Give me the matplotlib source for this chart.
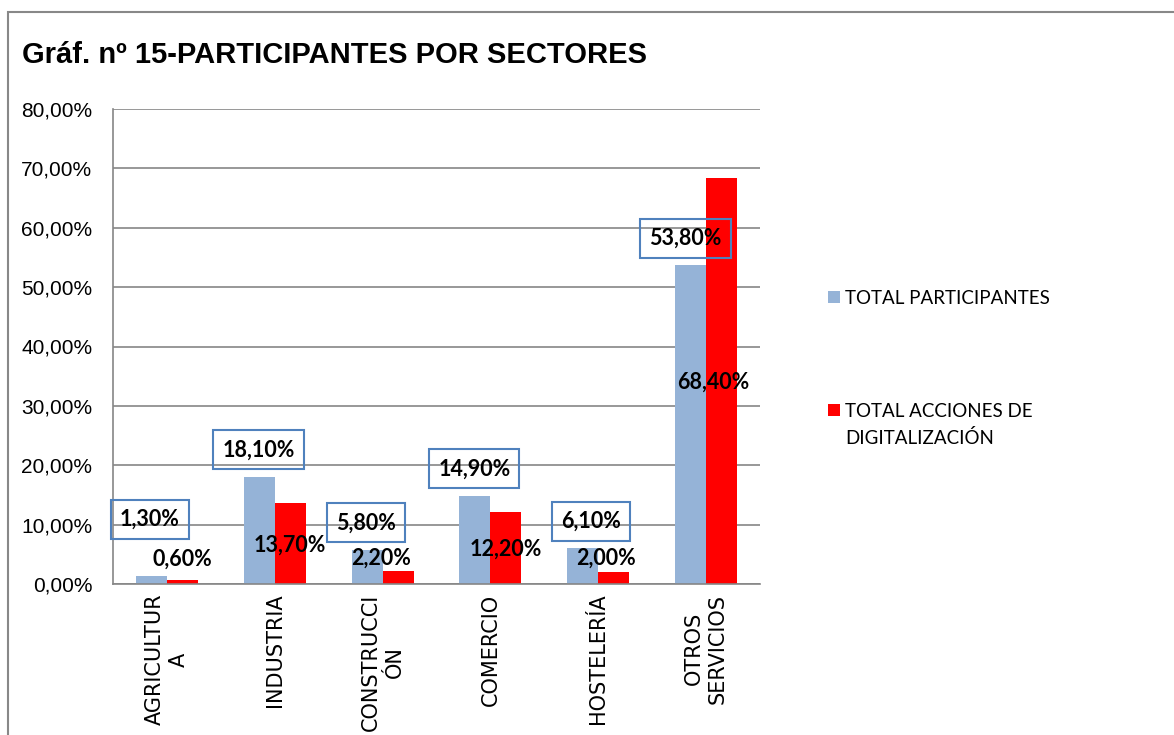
import numpy as np
import matplotlib.pyplot as plt
from matplotlib.patches import Rectangle

# data
sectores = ["AGRICULTUR\nA", "INDUSTRIA", "CONSTRUCCI\nÓN", "COMERCIO", "HOSTELERÍA", "OTROS\nSERVICIOS"]
participantes = [1.3, 18.1, 5.8, 14.9, 6.1, 53.8]
acciones = [0.6, 13.7, 2.2, 12.2, 2.0, 68.4]
series = ["TOTAL PARTICIPANTES", "TOTAL ACCIONES DE\nDIGITALIZACIÓN"]
yticks = [0, 10, 20, 30, 40, 50, 60, 70, 80]

# label placement (data units)
lab_part_y = [10.9, 22.6, 10.3, 19.4, 10.5, 58.2]
lab_part_dx = [-0.16, -0.15, -0.15, -0.15, -0.07, -0.19]
lab_acc_y = [4.2, 6.6, 4.4, 5.9, 4.4, 34.0]
lab_acc_dx = [0.14, 0.14, -0.01, 0.14, 0.07, 0.07]

blue = "#95B3D7"
red = "#FF0000"
grid_c = "#868686"
box_c = "#4F81BD"
W, H = 1174, 735

fig = plt.figure(figsize=(W / 100, H / 100), dpi=100)
ax = fig.add_axes([113 / W, 1 - 584 / H, (760 - 113) / W, (584 - 109) / H])

x = np.arange(len(sectores))
w = 0.287
ax.bar(x - w / 2, participantes, w, color=blue, label=series[0], zorder=2)
ax.bar(x + w / 2, acciones, w, color=red, label=series[1], zorder=2)

ax.set_xlim(-0.5, len(sectores) - 0.5)
ax.set_ylim(0, 80)
ax.set_yticks(yticks)
ax.set_yticklabels([f"{v:.2f}%".replace(".", ",") for v in yticks],
                   fontsize=15, family="Liberation Sans")
ax.yaxis.grid(True, color=grid_c, linewidth=1.2, zorder=0)
ax.set_axisbelow(True)
ax.tick_params(axis="y", length=0, pad=15)
ax.tick_params(axis="x", length=0, pad=7)
ax.set_xticks(x)
ax.set_xticklabels(sectores, rotation=90, fontsize=15, family="DejaVu Sans",
                   va="top", ha="center", linespacing=1.25)
for s in ["top", "right"]:
    ax.spines[s].set_visible(False)
for s in ["left", "bottom"]:
    ax.spines[s].set_color(grid_c)
    ax.spines[s].set_linewidth(1.2)

for i in range(len(sectores)):
    ax.text(x[i] + lab_part_dx[i], lab_part_y[i], f"{participantes[i]:.2f}%".replace(".", ","),
            ha="center", va="center", fontsize=15.5, fontweight="bold", family="Lato",
            bbox=dict(boxstyle="square,pad=0.42", fc="none", ec=box_c, lw=1.5), zorder=4)
    ax.text(x[i] + lab_acc_dx[i], lab_acc_y[i], f"{acciones[i]:.2f}%".replace(".", ","),
            ha="center", va="center", fontsize=15.5, fontweight="bold", family="Lato", zorder=4)

# legend, drawn by hand so the marker sits on the first line of a two-line label
leg_rows = [297, 410]
for (label, col, yy) in zip(series, [blue, red], leg_rows):
    fig.patches.append(Rectangle((828 / W, 1 - (yy + 6) / H), 12 / W, 12 / H,
                                 transform=fig.transFigure, fc=col, ec="none"))
    fig.text(845 / W, 1 - (yy - 7) / H, label, fontsize=13.5, family="Lato",
             va="top", ha="left", linespacing=1.6)

fig.text(22 / W, 1 - 55 / H, "Gráf. nº 15-PARTICIPANTES POR SECTORES",
         fontsize=21, fontweight="bold", family="Liberation Sans", va="center", ha="left")

fig.patches.append(Rectangle((8 / W, -0.1), 1.2, 1 - 12 / H + 0.1, transform=fig.transFigure,
                             fill=False, ec="#888888", lw=1.5))

fig.savefig("out.png", dpi=100)
